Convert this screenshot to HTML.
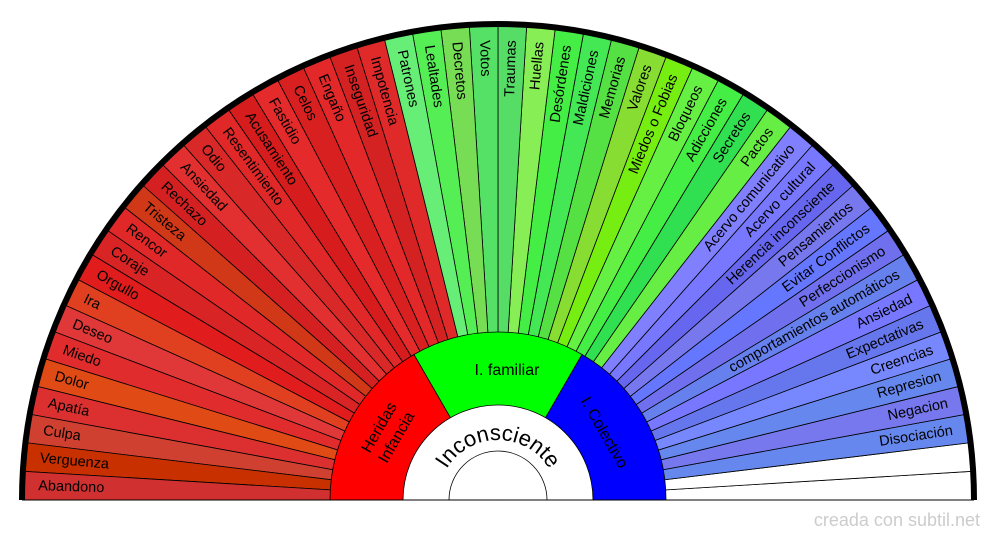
<!DOCTYPE html>
<html><head><meta charset="utf-8"><style>
html,body{margin:0;padding:0;background:#fff;}
svg{display:block;font-family:"Liberation Sans",sans-serif;}
</style></head><body>
<svg width="1000" height="540" viewBox="0 0 1000 540" xmlns="http://www.w3.org/2000/svg">
<defs>
<path id="w" d="M0 0 L475 0 A475 475 0 0 0 474.13 -28.68 Z"/>
<path id="arcI" d="M-60 0 A60 60 0 0 1 60 0"/>
</defs>
<g transform="translate(498,500)" stroke="#000" stroke-width="0.8">
<use href="#w" transform="rotate(0)" fill="#ffffff"/>
<use href="#w" transform="rotate(-3.46)" fill="#ffffff"/>
<use href="#w" transform="rotate(-6.92)" fill="#6688ee"/>
<use href="#w" transform="rotate(-10.38)" fill="#7777ee"/>
<use href="#w" transform="rotate(-13.85)" fill="#6688ee"/>
<use href="#w" transform="rotate(-17.31)" fill="#7788ff"/>
<use href="#w" transform="rotate(-20.77)" fill="#6677ee"/>
<use href="#w" transform="rotate(-24.23)" fill="#7777ff"/>
<use href="#w" transform="rotate(-27.69)" fill="#6680ee"/>
<use href="#w" transform="rotate(-31.15)" fill="#7070ee"/>
<use href="#w" transform="rotate(-34.62)" fill="#6677ff"/>
<use href="#w" transform="rotate(-38.08)" fill="#7777ee"/>
<use href="#w" transform="rotate(-41.54)" fill="#6666ee"/>
<use href="#w" transform="rotate(-45)" fill="#7777ff"/>
<use href="#w" transform="rotate(-48.46)" fill="#8080ff"/>
<use href="#w" transform="rotate(-51.92)" fill="#66ee44"/>
<use href="#w" transform="rotate(-55.38)" fill="#30e050"/>
<use href="#w" transform="rotate(-58.85)" fill="#44ee44"/>
<use href="#w" transform="rotate(-62.31)" fill="#66f044"/>
<use href="#w" transform="rotate(-65.77)" fill="#77ee11"/>
<use href="#w" transform="rotate(-69.23)" fill="#88dd33"/>
<use href="#w" transform="rotate(-72.69)" fill="#55e044"/>
<use href="#w" transform="rotate(-76.15)" fill="#44e855"/>
<use href="#w" transform="rotate(-79.62)" fill="#44ee44"/>
<use href="#w" transform="rotate(-83.08)" fill="#88ee55"/>
<use href="#w" transform="rotate(-86.54)" fill="#55dd66"/>
<use href="#w" transform="rotate(-90)" fill="#55e066"/>
<use href="#w" transform="rotate(-93.46)" fill="#77dd55"/>
<use href="#w" transform="rotate(-96.92)" fill="#55ee55"/>
<use href="#w" transform="rotate(-100.38)" fill="#66ee77"/>
<use href="#w" transform="rotate(-103.85)" fill="#e02a2a"/>
<use href="#w" transform="rotate(-107.31)" fill="#d42222"/>
<use href="#w" transform="rotate(-110.77)" fill="#e22828"/>
<use href="#w" transform="rotate(-114.23)" fill="#d82020"/>
<use href="#w" transform="rotate(-117.69)" fill="#e42a2a"/>
<use href="#w" transform="rotate(-121.15)" fill="#d61c1c"/>
<use href="#w" transform="rotate(-124.62)" fill="#e02828"/>
<use href="#w" transform="rotate(-128.08)" fill="#d82828"/>
<use href="#w" transform="rotate(-131.54)" fill="#e23030"/>
<use href="#w" transform="rotate(-135)" fill="#d42020"/>
<use href="#w" transform="rotate(-138.46)" fill="#d03818"/>
<use href="#w" transform="rotate(-141.92)" fill="#e02828"/>
<use href="#w" transform="rotate(-145.38)" fill="#d82424"/>
<use href="#w" transform="rotate(-148.85)" fill="#e01c1c"/>
<use href="#w" transform="rotate(-152.31)" fill="#e04020"/>
<use href="#w" transform="rotate(-155.77)" fill="#e03838"/>
<use href="#w" transform="rotate(-159.23)" fill="#e02c2c"/>
<use href="#w" transform="rotate(-162.69)" fill="#e04a14"/>
<use href="#w" transform="rotate(-166.15)" fill="#dc3030"/>
<use href="#w" transform="rotate(-169.62)" fill="#d04030"/>
<use href="#w" transform="rotate(-173.08)" fill="#c83000"/>
<use href="#w" transform="rotate(-176.54)" fill="#d03030"/>
</g>
<g font-size="14.5" fill="#000" dominant-baseline="central">
<g transform="translate(498,500)">
<text transform="rotate(74.42)" x="-460">Impotencia</text>
<text transform="rotate(70.96)" x="-460">Inseguridad</text>
<text transform="rotate(67.5)" x="-460">Engaño</text>
<text transform="rotate(64.04)" x="-460">Celos</text>
<text transform="rotate(60.58)" x="-460">Fastidio</text>
<text transform="rotate(57.12)" x="-460">Acusamiento</text>
<text transform="rotate(53.65)" x="-460">Resentimiento</text>
<text transform="rotate(50.19)" x="-460">Odio</text>
<text transform="rotate(46.73)" x="-460">Ansiedad</text>
<text transform="rotate(43.27)" x="-460">Rechazo</text>
<text transform="rotate(39.81)" x="-460">Tristeza</text>
<text transform="rotate(36.35)" x="-460">Rencor</text>
<text transform="rotate(32.89)" x="-460">Coraje</text>
<text transform="rotate(29.42)" x="-460">Orgullo</text>
<text transform="rotate(25.96)" x="-460">Ira</text>
<text transform="rotate(22.5)" x="-460">Deseo</text>
<text transform="rotate(19.04)" x="-460">Miedo</text>
<text transform="rotate(15.58)" x="-460">Dolor</text>
<text transform="rotate(12.12)" x="-460">Apatía</text>
<text transform="rotate(8.65)" x="-460">Culpa</text>
<text transform="rotate(5.19)" x="-460">Verguenza</text>
<text transform="rotate(1.73)" x="-460">Abandono</text>

<text transform="rotate(77.89)" x="-460">Patrones</text>
<text transform="rotate(81.35)" x="-460">Lealtades</text>
<text transform="rotate(84.81)" x="-460">Decretos</text>
<text transform="rotate(88.27)" x="-460">Votos</text>

<g text-anchor="end">
<text transform="rotate(-88.27)" x="460">Traumas</text>
<text transform="rotate(-84.81)" x="460">Huellas</text>
<text transform="rotate(-81.35)" x="460">Desórdenes</text>
<text transform="rotate(-77.88)" x="460">Maldiciones</text>
<text transform="rotate(-74.42)" x="460">Memorias</text>
<text transform="rotate(-70.96)" x="460">Valores</text>
<text transform="rotate(-67.5)" x="460">Miedos o Fobias</text>
<text transform="rotate(-64.04)" x="460">Bloqueos</text>
<text transform="rotate(-60.58)" x="460">Adicciones</text>
<text transform="rotate(-57.11)" x="460">Secretos</text>
<text transform="rotate(-53.65)" x="460">Pactos</text>

<text transform="rotate(-50.19)" x="460">Acervo comunicativo</text>
<text transform="rotate(-46.73)" x="460">Acervo cultural</text>
<text transform="rotate(-43.27)" x="460">Herencia inconsciente</text>
<text transform="rotate(-39.81)" x="460">Pensamientos</text>
<text transform="rotate(-36.35)" x="460">Evitar Conflictos</text>
<text transform="rotate(-32.88)" x="460">Perfeccionismo</text>
<text transform="rotate(-29.42)" x="460">comportamientos automáticos</text>
<text transform="rotate(-25.96)" x="460">Ansiedad</text>
<text transform="rotate(-22.5)" x="460">Expectativas</text>
<text transform="rotate(-19.04)" x="460">Creencias</text>
<text transform="rotate(-15.58)" x="460">Represion</text>
<text transform="rotate(-12.11)" x="460">Negacion</text>
<text transform="rotate(-8.65)" x="460">Disociación</text>
</g>
</g>
</g>
<g transform="translate(498,500)" stroke="#000" stroke-width="0.8">
<path d="M0 0 L-168 0 A168 168 0 0 1 -84 -145.49 Z" fill="#ff0000"/>
<path d="M0 0 L-84 -145.49 A168 168 0 0 1 84 -145.49 Z" fill="#00ff00"/>
<path d="M0 0 L84 -145.49 A168 168 0 0 1 168 0 Z" fill="#0000ff"/>
<path d="M-95 0 A95 95 0 0 1 95 0 Z" fill="#fff"/>
<path d="M-49 0 A49 49 0 0 1 49 0 Z" fill="#fff"/>
<text font-size="22" text-anchor="middle" stroke="none" fill="#000"><textPath href="#arcI" startOffset="50%">Inconsciente</textPath></text>
<g stroke="none" fill="#000" font-size="16" text-anchor="middle">
<text x="9" y="-125">I. familiar</text>
<g transform="translate(-111,-68) rotate(-60)"><text x="0" y="-4">Heridas</text><text x="0" y="16">Infancia</text></g>
<g transform="translate(107,-68) rotate(60)"><text x="0" y="6">I. Colectivo</text></g>
</g>
<path d="M-476 0 A476 476 0 0 1 476 0" fill="none" stroke="#000" stroke-width="6"/>
<line x1="-476" y1="0" x2="476" y2="0" stroke="#000" stroke-width="1"/>
</g>
<text x="980" y="526" text-anchor="end" font-size="18" fill="#cccccc">creada con subtil.net</text>
</svg>
</body></html>
